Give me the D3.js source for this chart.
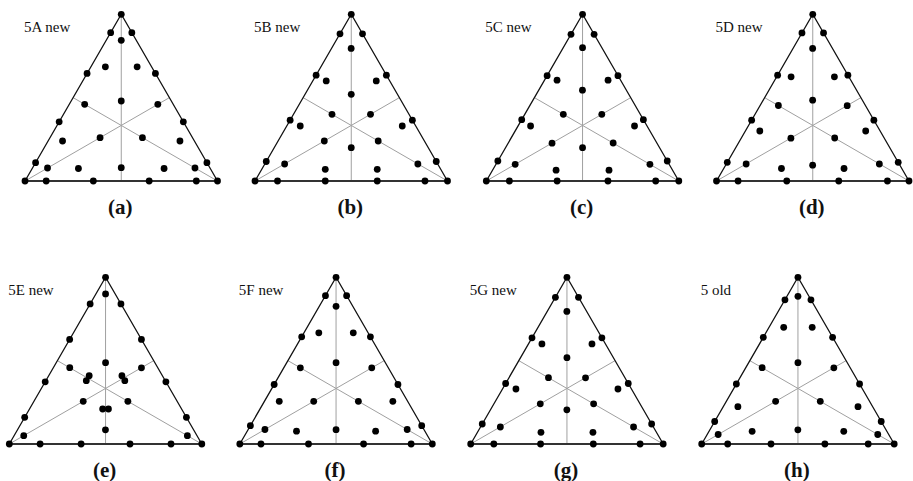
<!DOCTYPE html>
<html>
<head>
<meta charset="utf-8">
<script src="https://cdn.jsdelivr.net/npm/d3@7"></script>
<style>
body { margin: 0; background: #fff; }
svg text { font-family: "Liberation Serif", "Times New Roman", "DejaVu Serif", serif; }
</style>
</head>
<body>
<script>
// design names and panel letters
var designNames = ["5A new", "5B new", "5C new", "5D new", "5E new", "5F new", "5G new", "5 old"];
var panelLetters = ["(a)", "(b)", "(c)", "(d)", "(e)", "(f)", "(g)", "(h)"];

// mixture points as [top, left, right] proportions
var design5A = [
  [1,0,0],[0,1,0],[0,0,1],
  [0.89,0.11,0],[0.89,0,0.11],[0.11,0.89,0],[0.11,0,0.89],[0,0.89,0.11],[0,0.11,0.89],
  [0.645,0.355,0],[0.645,0,0.355],[0.355,0.645,0],[0.355,0,0.645],[0,0.645,0.355],[0,0.355,0.645],
  [0.844,0.078,0.078],[0.078,0.844,0.078],[0.078,0.078,0.844],
  [0.685,0.24,0.075],[0.685,0.075,0.24],[0.24,0.685,0.075],[0.075,0.685,0.24],[0.24,0.075,0.685],[0.075,0.24,0.685],
  [0.48,0.26,0.26],[0.26,0.48,0.26],[0.26,0.26,0.48],
  [0.08,0.46,0.46],[0.46,0.08,0.46],[0.46,0.46,0.08]
];
var design5B = [
  [1,0,0],[0,1,0],[0,0,1],
  [0.883,0.117,0],[0.883,0,0.117],[0.117,0.883,0],[0.117,0,0.883],[0,0.883,0.117],[0,0.117,0.883],
  [0.635,0.365,0],[0.635,0,0.365],[0.365,0.635,0],[0.365,0,0.635],[0,0.635,0.365],[0,0.365,0.635],
  [0.795,0.103,0.102],[0.102,0.795,0.103],[0.102,0.103,0.795],
  [0.6,0.33,0.07],[0.6,0.07,0.33],[0.33,0.6,0.07],[0.07,0.6,0.33],[0.33,0.07,0.6],[0.07,0.33,0.6],
  [0.52,0.24,0.24],[0.24,0.52,0.24],[0.24,0.24,0.52],
  [0.2,0.4,0.4],[0.4,0.2,0.4],[0.4,0.4,0.2]
];
var design5C = [
  [1,0,0],[0,1,0],[0,0,1],
  [0.88,0.12,0],[0.88,0,0.12],[0.12,0.88,0],[0.12,0,0.88],[0,0.88,0.12],[0,0.12,0.88],
  [0.632,0.368,0],[0.632,0,0.368],[0.368,0.632,0],[0.368,0,0.632],[0,0.632,0.368],[0,0.368,0.632],
  [0.8,0.1,0.1],[0.1,0.8,0.1],[0.1,0.1,0.8],
  [0.605,0.33,0.065],[0.605,0.065,0.33],[0.33,0.605,0.065],[0.065,0.605,0.33],[0.33,0.065,0.605],[0.065,0.33,0.605],
  [0.545,0.228,0.227],[0.227,0.545,0.228],[0.228,0.227,0.545],
  [0.2,0.4,0.4],[0.4,0.2,0.4],[0.4,0.4,0.2]
];
var design5D = [
  [1,0,0],[0,1,0],[0,0,1],
  [0.888,0.112,0],[0.888,0,0.112],[0.112,0.888,0],[0.112,0,0.888],[0,0.888,0.112],[0,0.112,0.888],
  [0.635,0.365,0],[0.635,0,0.365],[0.365,0.635,0],[0.365,0,0.635],[0,0.635,0.365],[0,0.365,0.635],
  [0.795,0.103,0.102],[0.102,0.795,0.103],[0.102,0.103,0.795],
  [0.625,0.3,0.075],[0.625,0.075,0.3],[0.3,0.625,0.075],[0.075,0.625,0.3],[0.3,0.075,0.625],[0.075,0.3,0.625],
  [0.485,0.258,0.257],[0.257,0.485,0.258],[0.258,0.257,0.485],
  [0.095,0.453,0.452],[0.452,0.095,0.453],[0.453,0.452,0.095]
];
var design5E = [
  [1,0,0],[0,1,0],[0,0,1],
  [0.84,0.16,0],[0.84,0,0.16],[0.16,0.84,0],[0.16,0,0.84],[0,0.84,0.16],[0,0.16,0.84],
  [0.627,0.373,0],[0.627,0,0.373],[0.373,0.627,0],[0.373,0,0.627],[0,0.627,0.373],[0,0.373,0.627],
  [0.9,0.05,0.05],[0.05,0.9,0.05],[0.05,0.05,0.9],
  [0.488,0.256,0.256],[0.256,0.488,0.256],[0.256,0.256,0.488],
  [0.085,0.458,0.457],[0.457,0.085,0.458],[0.458,0.457,0.085],
  [0.41,0.38,0.21],[0.41,0.21,0.38],[0.38,0.41,0.21],[0.38,0.21,0.41],[0.21,0.41,0.38],[0.21,0.38,0.41]
];
var design5F = [
  [1,0,0],[0,1,0],[0,0,1],
  [0.89,0.11,0],[0.89,0,0.11],[0.11,0.89,0],[0.11,0,0.89],[0,0.89,0.11],[0,0.11,0.89],
  [0.643,0.357,0],[0.643,0,0.357],[0.357,0.643,0],[0.357,0,0.643],[0,0.643,0.357],[0,0.357,0.643],
  [0.826,0.087,0.087],[0.087,0.826,0.087],[0.087,0.087,0.826],
  [0.667,0.256,0.077],[0.667,0.077,0.256],[0.256,0.667,0.077],[0.077,0.667,0.256],[0.256,0.077,0.667],[0.077,0.256,0.667],
  [0.488,0.256,0.256],[0.256,0.488,0.256],[0.256,0.256,0.488],
  [0.086,0.457,0.457],[0.457,0.086,0.457],[0.457,0.457,0.086]
];
var design5G = [
  [1,0,0],[0,1,0],[0,0,1],
  [0.88,0.12,0],[0.88,0,0.12],[0.12,0.88,0],[0.12,0,0.88],[0,0.88,0.12],[0,0.12,0.88],
  [0.637,0.363,0],[0.637,0,0.363],[0.363,0.637,0],[0.363,0,0.637],[0,0.637,0.363],[0,0.363,0.637],
  [0.795,0.103,0.102],[0.102,0.795,0.103],[0.102,0.103,0.795],
  [0.6,0.33,0.07],[0.6,0.07,0.33],[0.33,0.6,0.07],[0.07,0.6,0.33],[0.33,0.07,0.6],[0.07,0.33,0.6],
  [0.518,0.241,0.241],[0.241,0.518,0.241],[0.241,0.241,0.518],
  [0.205,0.398,0.397],[0.397,0.205,0.398],[0.398,0.397,0.205]
];
var design5old = [
  [1,0,0],[0,1,0],[0,0,1],
  [0.865,0.135,0],[0.865,0,0.135],[0.135,0.865,0],[0.135,0,0.865],[0,0.865,0.135],[0,0.135,0.865],
  [0.64,0.36,0],[0.64,0,0.36],[0.36,0.64,0],[0.36,0,0.64],[0,0.64,0.36],[0,0.36,0.64],
  [0.886,0.057,0.057],[0.057,0.886,0.057],[0.057,0.057,0.886],
  [0.7,0.224,0.076],[0.7,0.076,0.224],[0.224,0.7,0.076],[0.076,0.7,0.224],[0.224,0.076,0.7],[0.076,0.224,0.7],
  [0.488,0.256,0.256],[0.256,0.488,0.256],[0.256,0.256,0.488],
  [0.085,0.458,0.457],[0.457,0.085,0.458],[0.458,0.457,0.085]
];
var designs = [design5A, design5B, design5C, design5D, design5E, design5F, design5G, design5old];

var width = 913, height = 481;
var side = 192.5;
var tri = side * Math.sqrt(3) / 2;
var rowBase = [181, 444];
var colLeft = [[25, 255, 486.3, 716.5], [9.3, 239.8, 470.7, 701.7]];

var svg = d3.select("body").append("svg")
  .attr("width", width)
  .attr("height", height);

designs.forEach(function(pts, i) {
  var row = Math.floor(i / 4), col = i % 4;
  var left = colLeft[row][col], base = rowBase[row];

  var xs = d3.scaleLinear().domain([0, 1]).range([left, left + side]);
  var ys = d3.scaleLinear().domain([0, 1]).range([base, base - tri]);
  // [top, left, right] -> screen
  function px(p) { return xs(p[2] + p[0] / 2); }
  function py(p) { return ys(p[0]); }

  var g = svg.append("g");

  // medians
  var medians = [
    [[1,0,0],[0,0.5,0.5]],
    [[0,1,0],[0.5,0,0.5]],
    [[0,0,1],[0.5,0.5,0]]
  ];
  g.selectAll("line.median")
    .data(medians)
    .enter().append("line")
      .attr("class", "median")
      .attr("x1", function(d) { return px(d[0]); })
      .attr("y1", function(d) { return py(d[0]); })
      .attr("x2", function(d) { return px(d[1]); })
      .attr("y2", function(d) { return py(d[1]); })
      .attr("stroke", "#a0a0a0")
      .attr("stroke-width", 1);

  // outline
  var corners = [[0,1,0],[1,0,0],[0,0,1]];
  g.append("path")
    .attr("d", d3.line().x(px).y(py)(corners))
    .attr("fill", "none")
    .attr("stroke", "#111")
    .attr("stroke-width", 1.3);
  g.append("line")
    .attr("x1", px(corners[0])).attr("y1", py(corners[0]))
    .attr("x2", px(corners[2])).attr("y2", py(corners[2]))
    .attr("stroke", "#333")
    .attr("stroke-width", 1.8);

  // design points
  g.selectAll("circle")
    .data(pts)
    .enter().append("circle")
      .attr("cx", px)
      .attr("cy", py)
      .attr("r", 3.4)
      .attr("fill", "#000");

  g.append("text")
    .attr("x", left - 1)
    .attr("y", base - tri + 18)
    .attr("font-size", 15)
    .attr("fill", "#111")
    .text(designNames[i]);

  g.append("text")
    .attr("x", left + side / 2 - 1)
    .attr("y", base + 33)
    .attr("text-anchor", "middle")
    .attr("font-weight", "bold")
    .attr("font-size", 21)
    .attr("fill", "#111")
    .text(panelLetters[i]);
});
</script>
</body>
</html>
